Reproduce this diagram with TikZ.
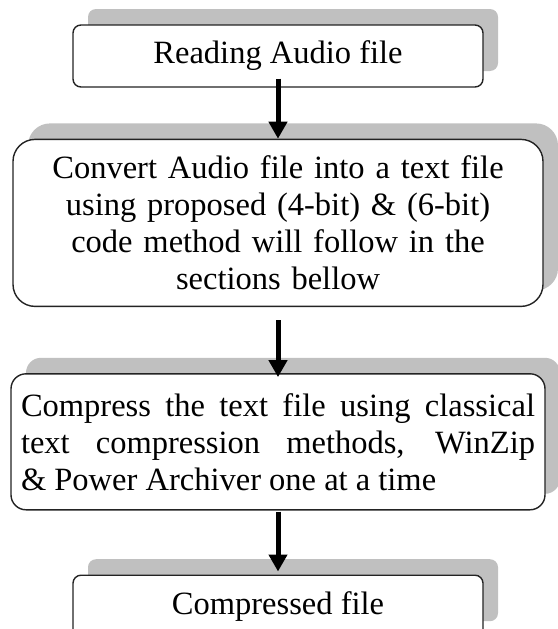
\documentclass[tikz,border=0pt]{standalone}
\usepackage{fontspec}
\setmainfont{Liberation Serif}
\usetikzlibrary{arrows.meta,positioning,shadows}
\definecolor{ShadowGray}{RGB}{192,192,192}
\definecolor{EdgeGray}{RGB}{35,35,35}
\tikzset{
  stepbox/.style={draw=EdgeGray, line width=1.4pt, fill=white, rounded corners=8pt,
    font=\fontsize{32.5}{37}\selectfont, align=center, inner xsep=10pt, inner ysep=0pt,
    drop shadow={shadow xshift=15pt, shadow yshift=16pt, fill=ShadowGray, opacity=1}},
  smallbox/.style={stepbox, minimum width=410pt, minimum height=62pt},
  bigbox/.style={stepbox, rounded corners=22pt, text width=510pt, minimum height=167pt},
  textbox/.style={stepbox, rounded corners=15pt, text width=514pt, align=justify,
    minimum height=136pt},
  arrow/.style={-{Triangle[length=17pt,width=18pt]}, line width=5pt, black}
}

\begin{document}
\begin{tikzpicture}[x=1pt,y=1pt]
      \useasboundingbox (0,0) rectangle (557,-629);
      \node[smallbox] (read) at (278,-56) {Reading Audio file};
      \node[bigbox, below=51pt of read] (convert) {Convert Audio file into a text file\\using proposed (4-bit) \& (6-bit)\\code method will follow in the\\sections bellow};
      \node[textbox, below=66pt of convert] (compress) {Compress the text file using classical\linebreak text compression methods, WinZip\linebreak \& Power Archiver one at a time};
      \node[smallbox, below=64pt of compress] (result) {Compressed file};
      \draw[arrow] ([yshift=9pt]read.south) -- (convert.north);
      \draw[arrow, shorten <=13pt, shorten >=-4pt] (convert) -- (compress);
      \draw[arrow, shorten <=1pt, shorten >=3pt] (compress) -- (result);
    \end{tikzpicture}
\end{document}
